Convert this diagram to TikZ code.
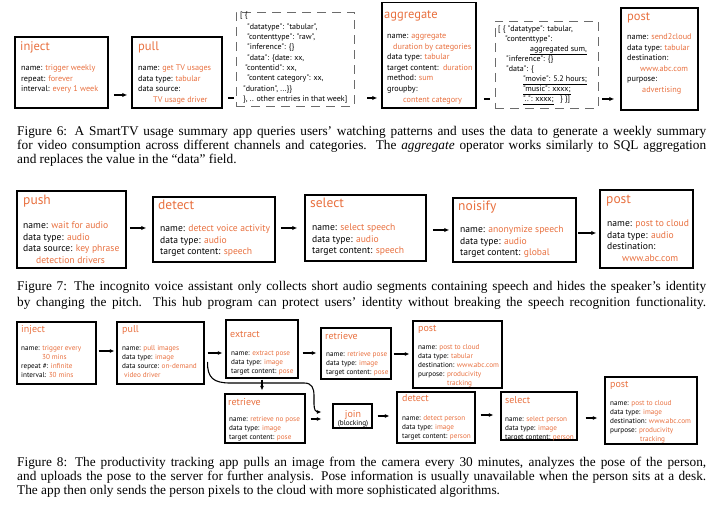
\documentclass[tikz,border=0pt]{standalone}
\usepackage{fontspec}
\setmainfont{Liberation Serif}
\newfontfamily\bxf{PT Sans}
\usetikzlibrary{arrows.meta,calc,fit}
\definecolor{opor}{HTML}{E8703F}
\definecolor{dgray}{gray}{0.42}
\newcommand\og[1]{\textcolor{opor}{#1}}
\newcommand\nolsk{\lineskiplimit=-50pt\relax}
\begin{document}
\begin{tikzpicture}[x=1pt,y=-1pt,
  b6/.style={draw, line width=1.5pt, inner sep=0pt},
  b8/.style={draw, line width=1.2pt, inner sep=0pt},
  dbx/.style={draw=dgray, line width=0.9pt, dash pattern=on 9pt off 6pt, inner sep=0pt},
  t6/.style={anchor=base west, inner sep=0pt, text=opor, font=\bxf\fontsize{12.5}{14}\selectfont},
  d6/.style={anchor=base west, inner sep=0pt, align=left, font=\bxf\fontsize{8.2}{10.6}\selectfont\nolsk},
  j6/.style={anchor=base west, inner sep=0pt, align=left, font=\bxf\fontsize{8}{10.3}\selectfont\nolsk},
  t7/.style={anchor=base west, inner sep=0pt, text=opor, font=\bxf\fontsize{13.5}{15}\selectfont},
  d7/.style={anchor=base west, inner sep=0pt, align=left, font=\bxf\fontsize{9.6}{11.5}\selectfont\nolsk},
  t8/.style={anchor=base west, inner sep=0pt, text=opor, font=\bxf\fontsize{10}{12}\selectfont},
  d8/.style={anchor=base west, inner sep=0pt, align=left, font=\bxf\fontsize{7.2}{9}\selectfont\nolsk},
  captxt/.style={anchor=base west, inner sep=0pt, font=\fontsize{13.3}{15}\selectfont},
  a6/.style={-{Latex[length=5pt,width=4.5pt]}, line width=1.3pt},
  l6/.style={line width=1.3pt},
  a8/.style={-{Latex[length=4.5pt,width=4pt]}, line width=1.1pt}
]
\useasboundingbox (0,0) rectangle (728,510);

% ---------------- Figure 6 ----------------
\node[b6, fit={(15,37)(108,108)}] (inj6) {};
\node[t6] (inj6-t) at (20,50.8) {inject};
\node[d6] (inj6-b) at (21,91.7) {name: \og{trigger weekly}\\repeat: \og{forever}\\interval: \og{every 1 week}};

\node[b6, fit={(132,37)(222,108)}] (pull6) {};
\node[t6] (pull6-t) at (138,50.8) {pull};
\node[d6] (pull6-b) at (138,102.3) {name: \og{get TV usages}\\data type: \og{tabular}\\data source:\\\hspace*{15pt}\og{TV usage driver}};

\node[dbx, fit={(236,12)(354,106)}] (d1) {};
\node[j6] (d1-b) at (240,101.5) {[ \{\\[1.7pt]
\hspace*{7pt}"datatype": "tabular",\\
\hspace*{7pt}"contenttype": "raw",\\
\hspace*{7pt}"inference": \{\}\\
\hspace*{7pt}"data": \{date: xx,\\
\hspace*{5pt}"contentid": xx,\\
\hspace*{7pt}"content category": xx,\\
\hspace*{3pt}"duration", ...\}\}\\
\hspace*{3pt}\}, .. other entries in that week]};

\node[b6, fit={(382,2.5)(476,108)}] (agg6) {};
\node[t6] (agg6-t) at (384,18.8) {aggregate};
\node[d6] (agg6-b) at (387,102.1) {name: \og{aggregate}\\\hspace*{6pt}\og{duration by categories}\\data type: \og{tabular}\\target content:\ \ \og{duration}\\method: \og{sum}\\groupby:\\\hspace*{16pt}\og{content category}};

\node[dbx, fit={(495,21)(598,108)}] (d2) {};
\node[j6, font=\bxf\fontsize{8}{10}\selectfont\nolsk] (d2-b) at (498,101.4) {[ \{ "datatype": tabular,\\
\hspace*{7pt}"contenttype":\\
\hspace*{32pt}\underline{aggregated sum,}\\
\hspace*{8pt}"inference": \{\}\\
\hspace*{8pt}"data": \{\\
\hspace*{25pt}\underline{"movie": 5.2 hours;}\\
\hspace*{25pt}\underline{"music": xxxx;}\\
\hspace*{25pt}\underline{"..": xxxx;}\ \ \ \} \}]};

\node[b6, fit={(621,8)(698,110)}] (post6) {};
\node[t6] (post6-t) at (627,20.8) {post};
\node[d6] (post6-b) at (627,92.5) {name: \og{send2cloud}\\data type: \og{tabular}\\destination:\\\hspace*{13pt}\og{www.abc.com}\\purpose:\\\hspace*{15pt}\og{advertising}};

\draw[a6, shorten <=5pt, shorten >=4pt] (inj6.east |- 0,95) -- (pull6.west |- 0,95);
\draw[l6, shorten <=5pt, shorten >=2pt] (pull6.east |- 0,98) -- (d1.west |- 0,98);
\draw[a6, shorten <=13pt, shorten >=4pt] (d1.east |- 0,98) -- (agg6.west |- 0,98);
\draw[l6, shorten <=7pt, shorten >=5pt] (agg6.east |- 0,99) -- (d2.west |- 0,99);
\draw[a6, shorten <=4pt, shorten >=6pt] (d2.east |- 0,99) -- (post6.west |- 0,99);

\node[captxt] (c6a) at (17,135.5) {\hbox to 689pt{Figure 6: A SmartTV usage summary app queries users’ watching patterns and uses the data to generate a weekly summary}};
\node[captxt] (c6b) at (17,149.5) {\hbox to 689pt{for video consumption across different channels and categories. The \textit{aggregate} operator works similarly to SQL aggregation}};
\node[captxt] (c6c) at (17,163.5) {and replaces the value in the “data” field.};

% ---------------- Figure 7 ----------------
\node[b6, fit={(17,191)(126,268)}] (push7) {};
\node[t7] (push7-t) at (23,205) {push};
\node[d7] (push7-b) at (23,263.5) {name: \og{wait for audio}\\data type: \og{audio}\\data source: \og{key phrase}\\\hspace*{13pt}\og{detection drivers}};

\node[b6, fit={(153,197)(275,262)}] (det7) {};
\node[t7] (det7-t) at (158,210) {detect};
\node[d7] (det7-b) at (160,255) {name: \og{detect voice activity}\\data type: \og{audio}\\target content: \og{speech}};

\node[b6, fit={(305,195)(426,261)}] (sel7) {};
\node[t7] (sel7-t) at (310,208) {select};
\node[d7] (sel7-b) at (312,254) {name: \og{select speech}\\data type: \og{audio}\\target content: \og{speech}};

\node[b6, fit={(453,198)(576,262)}] (noi7) {};
\node[t7] (noi7-t) at (458,211) {noisify};
\node[d7] (noi7-b) at (460,256) {name: \og{anonymize speech}\\data type: \og{audio}\\target content: \og{global}};

\node[b6, fit={(600,190)(693,268)}] (post7) {};
\node[t7] (post7-t) at (606,204) {post};
\node[d7] (post7-b) at (607,261.5) {name: \og{post to cloud}\\data type: \og{audio}\\destination:\\\hspace*{15pt}\og{www.abc.com}};

\draw[a6, shorten <=3pt, shorten >=6pt] (push7.east |- 0,228) -- (det7.west |- 0,228);
\draw[a6, shorten <=5pt, shorten >=7pt] (det7.east |- 0,228) -- (sel7.west |- 0,228);
\draw[a6, shorten <=6pt, shorten >=3pt] (sel7.east |- 0,230) -- (noi7.west |- 0,230);
\draw[a6, shorten <=1pt, shorten >=3pt] (noi7.east |- 0,233) -- (post7.west |- 0,233);

\node[captxt] (c7a) at (17,290.5) {\hbox to 689pt{Figure 7: The incognito voice assistant only collects short audio segments containing speech and hides the speaker’s identity}};
\node[captxt] (c7b) at (17,306.5) {\hbox to 689pt{by changing the pitch. This hub program can protect users’ identity without breaking the speech recognition functionality.}};

% ---------------- Figure 8 ----------------
\node[b8, fit={(17,322)(96,384)}] (inj8) {};
\node[t8] (inj8-t) at (21,333) {inject};
\node[d8] (inj8-b) at (21,377.2) {name: \og{trigger every}\\\hspace*{21pt}\og{30 mins}\\repeat \#: \og{infinite}\\interval: \og{30 mins}};

\node[b8, fit={(117,322)(204,384)}] (pull8) {};
\node[t8] (pull8-t) at (122,333) {pull};
\node[d8] (pull8-b) at (122,377.2) {name: \og{pull images}\\data type: \og{image}\\data source: \og{on-demand}\\\hspace*{2pt}\og{video driver}};

\node[b8, fit={(226,320)(298,378)}] (ext8) {};
\node[t8] (ext8-t) at (230,338) {extract};
\node[d8] (ext8-b) at (231,373.2) {name: \og{extract pose}\\data type: \og{image}\\target content: \og{pose}};

\node[b8, fit={(321,328)(391,379)}] (ret8a) {};
\node[t8] (ret8a-t) at (325,340) {retrieve};
\node[d8] (ret8a-b) at (326,374.2) {name: \og{retrieve pose}\\data type: \og{image}\\target content: \og{pose}};

\node[b8, fit={(413,321)(502,388)}] (post8a) {};
\node[t8] (post8a-t) at (418,332) {post};
\node[d8] (post8a-b) at (418,385.2) {name: \og{post to cloud}\\data type: \og{tabular}\\destination: \og{www.abc.com}\\purpose: \og{producivity}\\\hspace*{29pt}\og{tracking}};

\node[b8, fit={(225,394)(305,443)}] (ret8b) {};
\node[t8] (ret8b-t) at (228,405) {retrieve};
\node[d8] (ret8b-b) at (229,439.2) {name: \og{retrieve no pose}\\data type: \og{image}\\target content: \og{pose}};

\node[b8, fit={(333,404)(372,428)}] (join8) {};
\node[anchor=base, inner sep=0pt, text=opor, font=\bxf\fontsize{10}{12}\selectfont] (join8-t) at (353,417) {join};
\node[anchor=base, inner sep=0pt, font=\bxf\fontsize{7.2}{9}\selectfont] (join8-b) at (353,425.5) {(blocking)};

\node[b8, fit={(397,392)(475,443)}] (det8) {};
\node[t8] (det8-t) at (402,402) {detect};
\node[d8] (det8-b) at (402,438.2) {name: \og{detect person}\\data type: \og{image}\\target content: \og{person}};

\node[b8, fit={(501,392)(577,440)}] (sel8) {};
\node[t8] (sel8-t) at (505,403) {select};
\node[d8] (sel8-b) at (505,439.2) {name: \og{select person}\\data type: \og{image}\\target content: \og{person}};

\node[b8, fit={(605,377)(697,444)}] (post8b) {};
\node[t8] (post8b-t) at (610,388) {post};
\node[d8] (post8b-b) at (610,441.2) {name: \og{post to cloud}\\data type: \og{image}\\destination: \og{www.abc.com}\\purpose: \og{producivity}\\\hspace*{30pt}\og{tracking}};

\draw[a8, shorten <=2pt, shorten >=2pt] (inj8.east |- 0,351) -- (pull8.west |- 0,351);
\draw[a8, shorten <=3pt, shorten >=3pt] (pull8.east |- 0,353) -- (ext8.west |- 0,353);
\draw[a8, shorten <=4pt, shorten >=4pt] (ext8.east |- 0,353) -- (ret8a.west |- 0,353);
\draw[a8, shorten <=2pt, shorten >=3pt] (ret8a.east |- 0,354) -- (post8a.west |- 0,354);
\draw[a8, shorten <=1pt, shorten >=3pt] (ext8.south -| 262,0) -- (ret8b.north -| 262,0);
\draw[a8, shorten <=5pt, shorten >=11pt] (ret8b.east |- 0,419) -- (join8.west |- 0,419);
\draw[a8, shorten <=5pt, shorten >=7pt] (join8.east |- 0,416) -- (det8.west |- 0,416);
\draw[a8, shorten <=5pt, shorten >=7pt] (det8.east |- 0,415) -- (sel8.west |- 0,415);
\draw[a8, shorten <=8pt, shorten >=7pt] (sel8.east |- 0,418) -- (post8b.west |- 0,418);
\coordinate (cvs) at ($(pull8.east |- 0,362)+(3,0)$);
\coordinate (cve) at ($(join8.west |- 0,412)+(-11,0)$);
\draw[a8] (cvs) .. controls (207,378) and (214,383) .. (230,383) -- (304,383)
  .. controls (312,383) and (314,388) .. (314,396) -- (314,404)
  .. controls (314,410) and (316,412) .. (cve);

\node[captxt] (c8a) at (17,466.5) {\hbox to 689pt{Figure 8: The productivity tracking app pulls an image from the camera every 30 minutes, analyzes the pose of the person,}};
\node[captxt] (c8b) at (17,480.5) {\hbox to 689pt{and uploads the pose to the server for further analysis. Pose information is usually unavailable when the person sits at a desk.}};
\node[captxt] (c8c) at (17,494) {The app then only sends the person pixels to the cloud with more sophisticated algorithms.};
\end{tikzpicture}
\end{document}
